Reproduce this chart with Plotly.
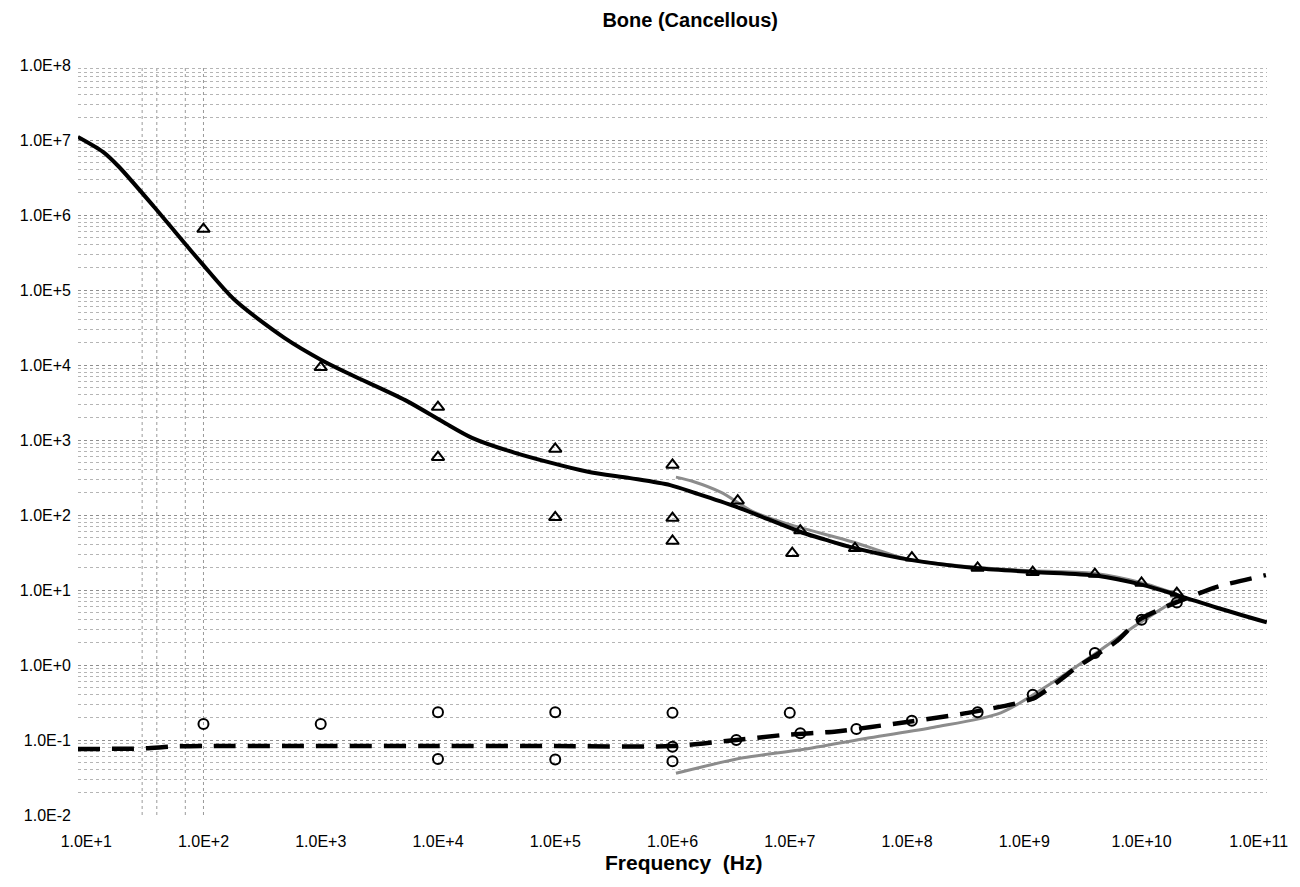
import plotly.graph_objects as go

# ---------------- data ----------------
# Model permittivity (thick solid black)
eps_model_f = [8.5, 14, 19, 38, 96, 184, 490, 1010, 1820, 5250, 11000, 19500, 44700,
               186000, 436000, 955000, 1.58e6, 3.47e6, 1.29e7, 2.0e7, 3.39e7,
               1.1e8, 4.0e8, 1.2e9, 4.2e9, 1.02e10, 2.04e10, 4.4e10, 1.17e11]
eps_model_v = [1.1e7, 6.9e6, 4.4e6, 1.28e6, 2.3e5, 7.4e4, 2.3e4, 1.17e4,
               7.4e3, 3.4e3, 1.75e3, 1.07e3, 6.8e2, 3.8e2, 3.1e2, 2.5e2, 1.95e2, 1.29e2,
               5.8e1, 4.7e1, 3.7e1, 2.5e1, 1.95e1, 1.74e1, 1.55e1, 1.17e1, 8.5, 5.8, 3.7]

# Measured permittivity (thin grey)
eps_meas_f = [1.07e6, 1.5e6, 2.6e6, 4.9e6, 9.1e6, 3.4e7, 1.0e8, 4.0e8, 1.2e9, 4.2e9, 1.0e10, 2.0e10]
eps_meas_v = [320, 280, 200, 110, 78, 44, 26, 20, 18, 16.5, 12.5, 8.8]

# Model conductivity (thick dashed black)
sig_model_f = [8.5, 30, 55, 100, 1e3, 1e4, 1e5, 1e6, 3.5e6, 9e6, 2.5e7, 9e7, 3.3e8,
               1.2e9, 2.8e9, 6.2e9, 9.5e9, 2.0e10, 4.4e10, 1.15e11]
sig_model_v = [0.076, 0.077, 0.082, 0.083, 0.083, 0.083, 0.083, 0.083, 0.1, 0.117,
               0.13, 0.17, 0.23, 0.36, 0.93, 2.1, 4.0, 6.9, 11, 15.8]

# Measured conductivity (thin grey)
sig_meas_f = [1.07e6, 4.0e6, 1.25e7, 4.8e7, 1.7e8, 6.3e8, 1.7e9, 4.5e9, 9.5e9, 2.0e10]
sig_meas_v = [0.036, 0.058, 0.074, 0.107, 0.148, 0.23, 0.57, 1.6, 3.6, 7.5]

# Literature permittivity (open triangles)
eps_lit_f = [100, 1000, 1e4, 1e4, 1e5, 1e5, 1e6, 1e6, 1e6, 3.6e6, 1.23e7, 1.05e7,
             3.6e7, 1.1e8, 4.0e8, 1.18e9, 4.0e9, 1.0e10, 2.0e10]
eps_lit_v = [6.5e5, 9.3e3, 2.75e3, 590, 760, 93, 465, 91, 45, 155, 62, 31,
             36, 27, 19.7, 17.3, 16.3, 12.4, 9.1]

# Literature conductivity (open circles)
sig_lit_f = [100, 1000, 1e4, 1e4, 1e5, 1e5, 1e6, 1e6, 1e6, 3.5e6, 1e7, 1.23e7,
             3.7e7, 1.1e8, 4.0e8, 1.18e9, 4.0e9, 1.0e10, 2.0e10]
sig_lit_v = [0.163, 0.163, 0.235, 0.056, 0.235, 0.055, 0.23, 0.081, 0.052, 0.1, 0.23, 0.123,
             0.14, 0.18, 0.235, 0.4, 1.45, 4.0, 6.8]

x_tickvals = [1e1, 1e2, 1e3, 1e4, 1e5, 1e6, 1e7, 1e8, 1e9, 1e10, 1e11]
x_ticktext = ["1.0E+1", "1.0E+2", "1.0E+3", "1.0E+4", "1.0E+5", "1.0E+6",
              "1.0E+7", "1.0E+8", "1.0E+9", "1.0E+10", "1.0E+11"]
y_tickvals = [1e-2, 1e-1, 1e0, 1e1, 1e2, 1e3, 1e4, 1e5, 1e6, 1e7, 1e8]
y_ticktext = ["1.0E-2", "1.0E-1", "1.0E+0", "1.0E+1", "1.0E+2", "1.0E+3",
              "1.0E+4", "1.0E+5", "1.0E+6", "1.0E+7", "1.0E+8"]
vgrid_f = [30, 40, 70, 100]

title_text = "Bone (Cancellous)"
xaxis_title = "Frequency  (Hz)"

# ---------------- figure ----------------
FONT = "Liberation Sans, Arial, sans-serif"
fig = go.Figure()

fig.add_trace(go.Scatter(x=eps_meas_f, y=eps_meas_v, mode="lines",
                         line=dict(color="#8c8c8c", width=3, shape="spline", smoothing=0.8),
                         showlegend=False))
fig.add_trace(go.Scatter(x=sig_meas_f, y=sig_meas_v, mode="lines",
                         line=dict(color="#8c8c8c", width=3, shape="spline", smoothing=0.8),
                         showlegend=False))
fig.add_trace(go.Scatter(x=eps_model_f, y=eps_model_v, mode="lines",
                         line=dict(color="black", width=4, shape="spline", smoothing=0.8),
                         showlegend=False))
fig.add_trace(go.Scatter(x=sig_model_f, y=sig_model_v, mode="lines",
                         line=dict(color="black", width=4.5, dash="22px,12px",
                                   shape="spline", smoothing=0.6),
                         showlegend=False))
fig.add_trace(go.Scatter(x=eps_lit_f, y=eps_lit_v, mode="markers",
                         marker=dict(symbol="triangle-up-open", size=11, color="black",
                                     line=dict(width=2, color="black")),
                         showlegend=False))
fig.add_trace(go.Scatter(x=sig_lit_f, y=sig_lit_v, mode="markers",
                         marker=dict(symbol="circle-open", size=10, color="black",
                                     line=dict(width=2, color="black")),
                         showlegend=False))

shapes = [dict(type="line", xref="x", yref="paper", x0=f, x1=f, y0=0, y1=1,
               line=dict(color="#9a9a9a", width=1, dash="dot"), layer="below")
          for f in vgrid_f]

# page body adds an 8px offset, so the figure is sized to fill the 1300x887 window
fig.update_layout(
    width=1292, height=879,
    paper_bgcolor="white", plot_bgcolor="white",
    margin=dict(l=68, r=32, t=57, b=72),
    font=dict(family=FONT, color="black", size=16),
    title=dict(text="<b>" + title_text + "</b>", x=0.528, xref="container",
               xanchor="center", y=0.986, yanchor="middle",
               font=dict(size=20, family=FONT, color="black")),
    shapes=shapes,
    annotations=[dict(text="<b>" + xaxis_title + "</b>", xref="paper", yref="paper",
                      x=0.51, y=-0.063, xanchor="center", yanchor="middle",
                      showarrow=False, font=dict(size=21, family=FONT, color="black"))],
    xaxis=dict(type="log", range=[0.93, 11.07], tickvals=x_tickvals, ticktext=x_ticktext,
               showgrid=False, zeroline=False, showline=False, ticks="",
               ticklabelstandoff=15, tickfont=dict(size=16)),
    yaxis=dict(type="log", range=[-2, 8], tickvals=y_tickvals, ticktext=y_ticktext,
               showgrid=True, gridcolor="#8f8f8f", griddash="dot", gridwidth=1,
               zeroline=False, showline=False, ticks="", ticklabelstandoff=6,
               tickfont=dict(size=16),
               minor=dict(dtick="D1", showgrid=True, gridcolor="#b5b5b5",
                          griddash="dot", gridwidth=1)),
)

fig.write_html("out.html")
